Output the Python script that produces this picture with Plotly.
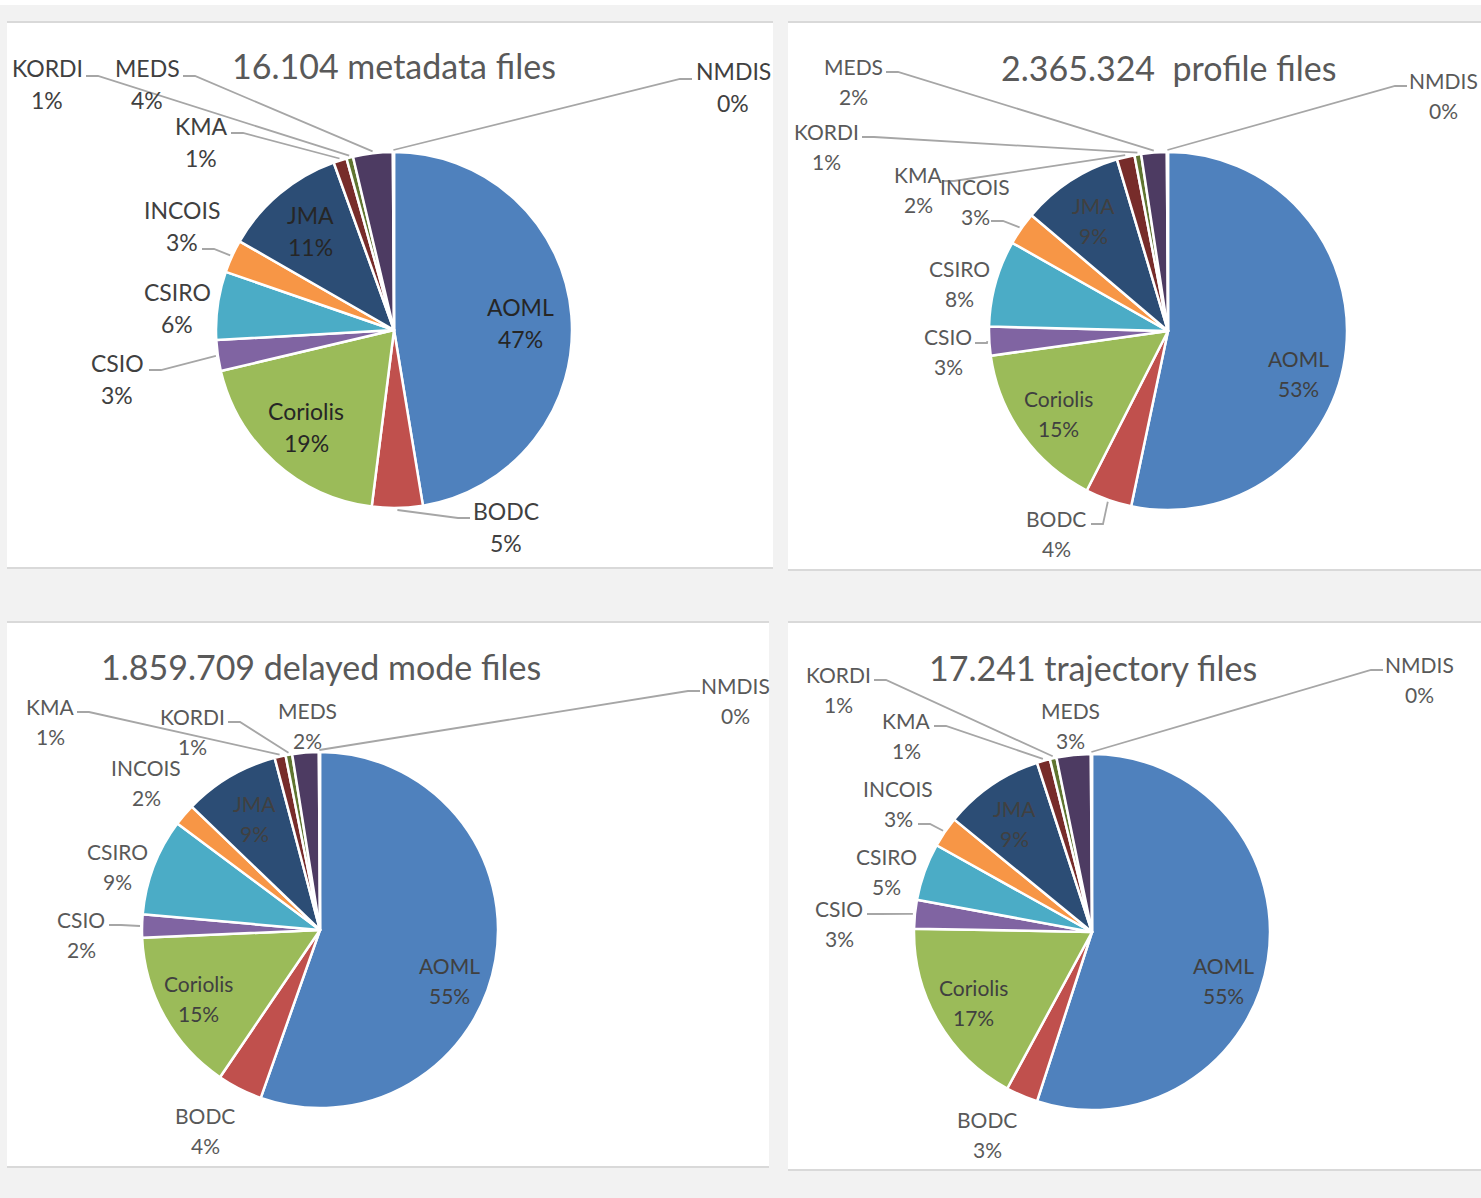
"""Argo DAC file shares: four Excel-style pies drawn with go.Pie + hand-placed labels."""

import math

import plotly.graph_objects as go

W, H = 1481, 1198

names = ["AOML", "BODC", "Coriolis", "CSIO", "CSIRO", "INCOIS", "JMA", "KMA", "KORDI", "MEDS", "NMDIS"]
colors = ["#4F81BD", "#C0504D", "#9BBB59", "#8064A2", "#4BACC6", "#F79646",
          "#2C4D75", "#772C2A", "#5F7530", "#4D3B62", "#276A7C"]

# share of files per DAC (%)
metadata_share = [47.4, 4.6, 19.3, 2.8, 6.2, 3.0, 11.2, 1.2, 0.6, 3.6, 0.1]
profile_share = [53.3, 4.2, 15.3, 2.6, 7.8, 3.0, 9.2, 1.6, 0.6, 2.3, 0.1]
delayed_share = [55.4, 4.1, 14.8, 2.1, 8.8, 2.0, 8.7, 1.0, 0.6, 2.4, 0.1]
trajectory_share = [55.0, 2.9, 17.4, 2.6, 5.2, 2.8, 9.1, 1.2, 0.6, 3.1, 0.1]

titles = ["16.104 metadata files", "2.365.324  profile files",
          "1.859.709 delayed mode files", "17.241 trajectory files"]

# layout: pie centre/radius, panel box, label centres and leader starts (pixels)
panels = [
    dict(share=metadata_share, title=titles[0], c=(394, 330), r=178, box=(7, 22, 773, 568),
         tpos=(394, 65), fs=23, gap=32, tcol="#404040", icol="#262626",
         lab={"AOML": (520, 307), "BODC": (506, 511), "Coriolis": (306, 411), "CSIO": (117, 363),
              "CSIRO": (177, 292), "INCOIS": (182, 210), "JMA": (310, 215), "KMA": (201, 126),
              "KORDI": (47, 68), "MEDS": (147, 68), "NMDIS": (733, 71)},
         lead={"BODC": (470, 518, -1), "CSIO": (149, 370, 1), "INCOIS": (202, 249, 1),
               "KMA": (231, 133, 1), "KORDI": (86, 76, 1), "MEDS": (183, 76, 1),
               "NMDIS": (692, 79, -1)}),
    dict(share=profile_share, title=titles[1], c=(1168, 331), r=179, box=(788, 22, 1481, 570),
         tpos=(1168, 67), fs=21, gap=30, tcol="#595959", icol="#404040",
         lab={"AOML": (1298, 358), "BODC": (1056, 518), "Coriolis": (1058, 398), "CSIO": (948, 336),
              "CSIRO": (959, 268), "INCOIS": (975, 186), "JMA": (1093, 205), "KMA": (918, 174),
              "KORDI": (826, 131), "MEDS": (853, 66), "NMDIS": (1443, 80)},
         lead={"BODC": (1091, 524, 1), "CSIO": (975, 343, 1), "INCOIS": (991, 221, 1),
               "KMA": (942, 181, 1), "KORDI": (862, 137, 1), "MEDS": (886, 72, 1),
               "NMDIS": (1407, 86, -1)}),
    dict(share=delayed_share, title=titles[2], c=(320, 930), r=178, box=(7, 622, 769, 1167),
         tpos=(321, 666), fs=21, gap=30, tcol="#595959", icol="#404040",
         lab={"AOML": (449, 965), "BODC": (205, 1115), "Coriolis": (198, 983), "CSIO": (81, 919),
              "CSIRO": (117, 851), "INCOIS": (146, 767), "JMA": (254, 803), "KMA": (50, 706),
              "KORDI": (192, 716), "MEDS": (307, 710), "NMDIS": (735, 685)},
         lead={"CSIO": (109, 925, 1), "KMA": (77, 712, 1), "KORDI": (228, 722, 1),
               "NMDIS": (700, 691, -1)}),
    dict(share=trajectory_share, title=titles[3], c=(1092, 932), r=178, box=(788, 622, 1481, 1170),
         tpos=(1093, 667), fs=21, gap=30, tcol="#595959", icol="#404040",
         lab={"AOML": (1223, 965), "BODC": (987, 1119), "Coriolis": (973, 987), "CSIO": (839, 908),
              "CSIRO": (886, 856), "INCOIS": (898, 788), "JMA": (1014, 808), "KMA": (906, 720),
              "KORDI": (838, 674), "MEDS": (1070, 710), "NMDIS": (1419, 664)},
         lead={"CSIO": (867, 914, 1), "INCOIS": (918, 824, 1), "KMA": (934, 726, 1),
               "KORDI": (874, 680, 1), "NMDIS": (1383, 670, -1)}),
]

INSIDE = {"AOML", "Coriolis", "JMA"}
FONT = "Lato, 'Open Sans', sans-serif"

fig = go.Figure()
shapes, annotations = [], []

# white strip at the very top of the screenshot
shapes.append(dict(type="rect", x0=0, x1=W, y0=0, y1=5, xref="x", yref="y",
                   fillcolor="white", line_width=0, layer="below"))

for p in panels:
    cx, cy = p["c"]
    r = p["r"]
    x0, y0, x1, y1 = p["box"]
    shapes.append(dict(type="rect", x0=x0, x1=x1, y0=y0, y1=y1, xref="x", yref="y",
                       fillcolor="white", line_width=0, layer="below"))
    for yy in (y0, y1):
        shapes.append(dict(type="line", x0=x0, x1=x1, y0=yy, y1=yy, xref="x", yref="y",
                           line=dict(color="#D9D9D9", width=2), layer="below"))

    fig.add_trace(go.Pie(
        labels=names, values=p["share"], sort=False, direction="clockwise", rotation=0,
        textinfo="none", hoverinfo="label+percent", showlegend=False,
        marker=dict(colors=colors, line=dict(color="white", width=2.5)),
        domain=dict(x=[(cx - r) / W, (cx + r) / W], y=[1 - (cy + r) / H, 1 - (cy - r) / H]),
    ))

    annotations.append(dict(x=p["tpos"][0], y=p["tpos"][1], xref="x", yref="y", text=p["title"],
                            showarrow=False, xanchor="center", yanchor="middle",
                            font=dict(family=FONT, size=34, color="#595959")))

    total = sum(p["share"])
    cum = 0.0
    for name, v in zip(names, p["share"]):
        mid = 2 * math.pi * (cum + v / 2) / total
        cum += v
        pct = f"{v / total * 100:.0f}%"
        lx, ly = p["lab"][name]
        col = p["icol"] if name in INSIDE else p["tcol"]
        for txt, dy in ((name, 0), (pct, p["gap"])):
            annotations.append(dict(x=lx, y=ly + dy, xref="x", yref="y", text=txt, showarrow=False,
                                    xanchor="center", yanchor="middle",
                                    font=dict(family=FONT, size=p["fs"], color=col)))
        if name in p["lead"]:
            sx, sy, d = p["lead"][name]
            ex = cx + (r + 2) * math.sin(mid)
            ey = cy - (r + 2) * math.cos(mid)
            shapes.append(dict(type="path", xref="x", yref="y",
                               path=f"M {sx},{sy} L {sx + d * 12},{sy} L {ex:.1f},{ey:.1f}",
                               line=dict(color="#A6A6A6", width=1.8), layer="above"))

fig.update_layout(
    width=W, height=H, margin=dict(l=0, r=0, t=0, b=0),
    paper_bgcolor="#F2F2F2", plot_bgcolor="rgba(0,0,0,0)",
    xaxis=dict(range=[0, W], visible=False, fixedrange=True, domain=[0, 1]),
    yaxis=dict(range=[H, 0], visible=False, fixedrange=True, domain=[0, 1]),
    shapes=shapes, annotations=annotations,
)

# drop the browser's default 8px body margin so the figure sits at the page origin
fig.write_html("out.html", config={"displayModeBar": False},
               post_script="document.body.style.margin='0';document.body.style.overflow='hidden';")
